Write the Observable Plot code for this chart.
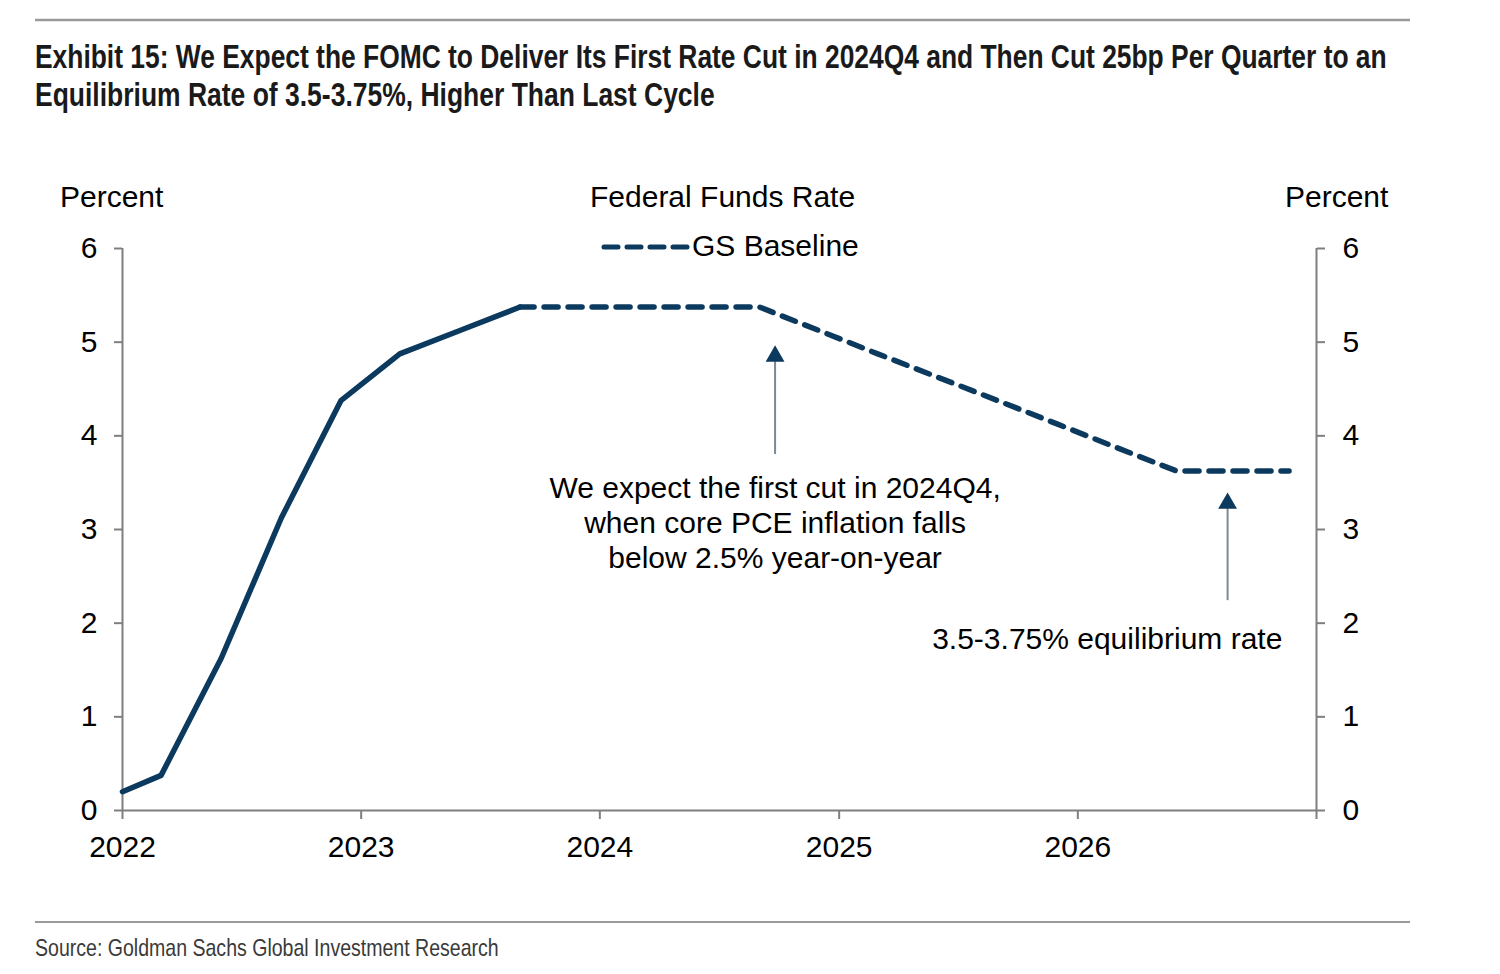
<!DOCTYPE html>
<html>
<head>
<meta charset="utf-8">
<script src="https://cdn.jsdelivr.net/npm/d3@7"></script>
<script src="https://cdn.jsdelivr.net/npm/@observablehq/plot@0.6"></script>
<style>
  html, body { margin: 0; padding: 0; background: #fff; }
  body { width: 1500px; height: 974px; position: relative; overflow: hidden; font-family: "Liberation Sans", Arial, sans-serif; }
  .lbl { position: absolute; font-size: 30px; color: #000; white-space: nowrap; line-height: 1; }
  #chart svg { overflow: visible; }
</style>
</head>
<body>
<svg id="head" width="1500" height="130" style="position:absolute;left:0;top:0">
  <line x1="35" x2="1410" y1="20" y2="20" stroke="#9a9a9a" stroke-width="2.5"/>
  <text id="t1" font-family="Liberation Sans, Arial" font-weight="bold" font-size="33" fill="#1a1a1a"></text>
  <text id="t2" font-family="Liberation Sans, Arial" font-weight="bold" font-size="33" fill="#1a1a1a"></text>
</svg>
<div id="chart" style="position:absolute;left:0;top:140px"></div>
<div class="lbl" style="left:60px;top:182px">Percent</div>
<div class="lbl" style="left:1285px;top:182px">Percent</div>
<div class="lbl" style="left:590px;top:182px">Federal Funds Rate</div>
<svg width="90" height="20" style="position:absolute;left:600px;top:237px">
  <line x1="4" x2="88" y1="10" y2="10" stroke="#0c3a5f" stroke-width="5" stroke-dasharray="14,9" stroke-linecap="round"/>
</svg>
<div class="lbl" style="left:692px;top:231px">GS Baseline</div>
<svg id="foot" width="1500" height="74" style="position:absolute;left:0;top:900px">
  <line x1="35" x2="1410" y1="22" y2="22" stroke="#9a9a9a" stroke-width="2"/>
  <text id="src" font-family="Liberation Sans, Arial" font-size="24" fill="#3a3a3a"></text>
</svg>
<script>
// ---- Text ----
const titleLines = [
  "Exhibit 15: We Expect the FOMC to Deliver Its First Rate Cut in 2024Q4 and Then Cut 25bp Per Quarter to an",
  "Equilibrium Rate of 3.5-3.75%, Higher Than Last Cycle"
];
const sourceText = "Source: Goldman Sachs Global Investment Research";

// ---- Data ----
const actualDates = ["2022-01-01","2022-03-01","2022-06-01","2022-09-01","2022-12-01","2023-03-01","2023-06-01","2023-09-01"];
const actualRates = [0.2, 0.375, 1.625, 3.125, 4.375, 4.875, 5.125, 5.375];

const forecastDates = ["2023-09-01","2023-12-01","2024-03-01","2024-06-01","2024-09-01","2024-12-01","2025-03-01","2025-06-01","2025-09-01","2025-12-01","2026-03-01","2026-06-01","2026-09-01","2026-11-20"];
const forecastRates = [5.375, 5.375, 5.375, 5.375, 5.375, 5.125, 4.875, 4.625, 4.375, 4.125, 3.875, 3.625, 3.625, 3.625];

const xTickDates = ["2022-01-01","2023-01-01","2024-01-01","2025-01-01","2026-01-01","2027-01-01"];
const xTickLabels = ["2022","2023","2024","2025","2026",""];
const yTicks = [0, 1, 2, 3, 4, 5, 6];
const xDomainDates = ["2022-01-01","2027-01-01"];
const yDomain = [0, 6];

// annotations
const arrowDates = ["2024-09-25","2026-08-18"];
const arrowFrom = [3.8, 2.24];
const arrowTo = [4.8, 3.25];
const arrowHead = [4.85, 3.28];
const noteDates = ["2024-09-25","2026-02-15"];
const noteValues = [3.08, 1.84];
const noteTexts = ["We expect the first cut in 2024Q4,\nwhen core PCE inflation falls\nbelow 2.5% year-on-year", "3.5-3.75% equilibrium rate"];

// Condensed header/footer text: scale horizontally to the reference widths
function fitText(id, str, x, y, width) {
  const el = document.getElementById(id);
  el.textContent = str;
  const len = el.getComputedTextLength();
  const k = len > 0 ? width / len : 1;
  el.setAttribute("transform", `translate(${x},${y}) scale(${k},1)`);
}
fitText("t1", titleLines[0], 35, 68, 1352);
fitText("t2", titleLines[1], 35, 106, 680);
fitText("src", sourceText, 35, 56, 464);

const P = s => new Date(s + "T00:00:00Z");
const actual = actualDates.map((d, i) => ({date: P(d), rate: actualRates[i]}));
const forecast = forecastDates.map((d, i) => ({date: P(d), rate: forecastRates[i]}));
const arrows = arrowDates.map((d, i) => ({date: P(d), from: arrowFrom[i], to: arrowTo[i], head: arrowHead[i]}));
const notes = noteDates.map((d, i) => ({date: P(d), y: noteValues[i], text: noteTexts[i]}));
const xTicks = xTickDates.map(P);
const labelOf = new Map(xTickDates.map((d, i) => [+P(d), xTickLabels[i]]));

const lineColor = "#0c3a5f";
const axisGray = "#7f7f7f";

const chart = Plot.plot({
  width: 1500,
  height: 730,
  marginTop: 108,
  marginBottom: 60,
  marginLeft: 122,
  marginRight: 184,
  style: {fontFamily: "Liberation Sans, Arial, sans-serif", fontSize: "30px", color: "#000", background: "transparent"},
  x: {type: "utc", domain: xDomainDates.map(P)},
  y: {domain: yDomain},
  marks: [
    Plot.axisX({ticks: xTicks, tickFormat: d => labelOf.get(+d) ?? "", tickSize: 9, tickPadding: 16, stroke: axisGray, strokeWidth: 2, label: null, fontSize: 30}),
    Plot.axisY({anchor: "left", ticks: yTicks, tickFormat: d3.format("d"), tickSize: 8, tickPadding: 17, stroke: axisGray, strokeWidth: 2, label: null, fontSize: 30}),
    Plot.axisY({anchor: "right", ticks: yTicks, tickFormat: d3.format("d"), tickSize: 8, tickPadding: 18, stroke: axisGray, strokeWidth: 2, label: null, fontSize: 30}),
    Plot.ruleY([yDomain[0]], {stroke: axisGray, strokeWidth: 2}),
    Plot.ruleX(xDomainDates.map(P), {stroke: axisGray, strokeWidth: 2}),
    Plot.ruleX(arrows, {x: "date", y1: "from", y2: "to", stroke: "#7d8893", strokeWidth: 2}),
    Plot.dot(arrows, {x: "date", y: "head", symbol: "triangle", r: 7, fill: lineColor, stroke: "none"}),
    Plot.line(actual, {x: "date", y: "rate", stroke: lineColor, strokeWidth: 5.5}),
    Plot.line(forecast, {x: "date", y: "rate", stroke: lineColor, strokeWidth: 5.5, strokeDasharray: "14,10"}),
    Plot.text(notes, {x: "date", y: "y", text: "text", fontSize: 30, lineHeight: 1.17, fill: "#000"})
  ]
});
document.getElementById("chart").appendChild(chart);
</script>
</body>
</html>
